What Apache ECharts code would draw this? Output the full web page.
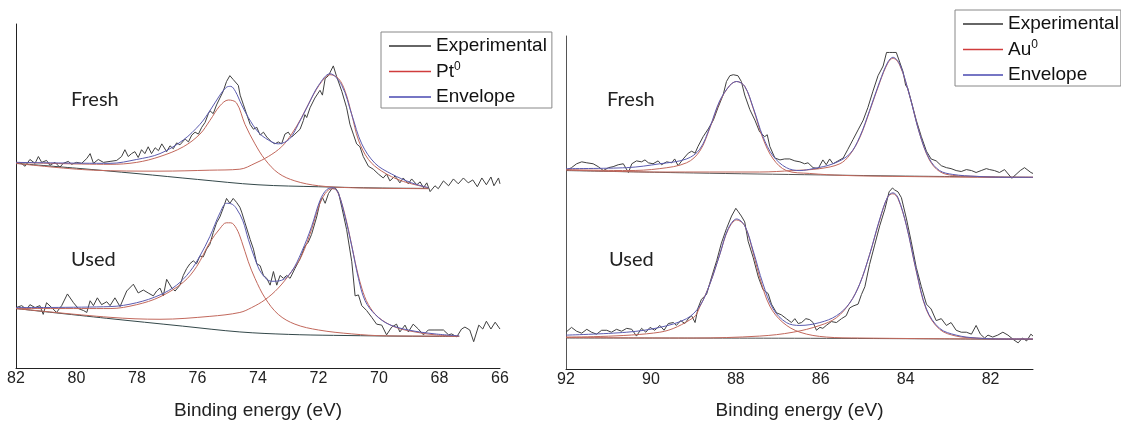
<!DOCTYPE html>
<html lang="en">
<head>
<meta charset="UTF-8">
<title>XPS Pt 4f / Au 4f</title>
<script src="https://cdn.jsdelivr.net/npm/echarts@6/dist/echarts.min.js"></script>
<style>
  html, body { margin: 0; padding: 0; background: #fff; }
  #main { width: 1121px; height: 425px; }
</style>
</head>
<body>
<div id="main"></div>
<script>
// binding energy (eV), intensity (a.u., spectra stacked with an offset)
// ---- Pt 4f, fresh ----
var ptFreshExp = [[82,209],[81.87,211],[81.7,207],[81.54,214],[81.37,210],[81.26,217],[81.15,211],[80.99,213],[80.88,208],[80.71,211],[80.55,206],[80.44,210],[80.27,212],[80.16,209],[80,211],[79.83,210],[79.66,215],[79.55,220],[79.44,210],[79.28,214],[79.11,211],[78.89,212],[78.67,213],[78.51,217],[78.4,224],[78.29,217],[78.18,220],[78.07,222],[77.96,216],[77.85,224],[77.74,220],[77.63,227],[77.52,220],[77.4,226],[77.29,223],[77.18,230],[77.02,222],[76.91,228],[76.8,225],[76.69,231],[76.58,229],[76.41,235],[76.3,232],[76.19,239],[76.08,242],[75.97,240],[75.86,247],[75.75,252],[75.64,261],[75.59,264],[75.48,261],[75.37,270],[75.26,277],[75.15,284],[75.04,294],[74.93,300],[74.82,296],[74.65,290],[74.59,280],[74.48,270],[74.37,260],[74.26,250],[74.15,245],[74.04,247],[73.93,239],[73.82,242],[73.71,237],[73.55,232],[73.44,230],[73.33,232],[73.22,230],[73.11,240],[73,242],[72.89,237],[72.78,240],[72.61,245],[72.5,254],[72.45,260],[72.39,257],[72.28,267],[72.12,277],[71.95,285],[71.87,280],[71.78,297],[71.67,300],[71.51,310],[71.4,299],[71.23,284],[71.07,267],[70.96,250],[70.85,240],[70.74,230],[70.63,227],[70.52,217],[70.35,207],[70.19,204],[70.02,199],[69.86,195],[69.75,199],[69.64,192],[69.47,197],[69.31,190],[69.2,195],[69.03,189],[68.92,194],[68.75,188],[68.64,191],[68.53,185],[68.42,190],[68.31,181],[68.15,187],[68.04,184],[67.87,192],[67.7,187],[67.54,194],[67.38,189],[67.21,195],[67.05,190],[66.9,193],[66.75,186],[66.6,195],[66.45,188],[66.3,196],[66.2,187],[66.05,195],[66,189]];
var ptFreshEnv = [[82,211],[78.89,210],[78.01,214],[77.24,220],[76.47,234],[75.92,250],[75.59,264],[75.26,280],[75.05,288],[74.9,289],[74.75,284],[74.54,270],[74.32,257],[73.99,242],[73.66,234],[73.33,230],[72.96,235],[72.67,250],[72.34,270],[72,290],[71.62,302],[71.23,290],[70.9,260],[70.57,230],[70.13,210],[69.58,199],[68.92,190],[68.37,185]];
var ptFreshPt1 = [[82,211],[78.89,209],[78.01,211],[77.24,217],[76.47,227],[75.92,240],[75.59,254],[75.26,269],[74.98,275],[74.71,272],[74.43,250],[74.1,230],[73.77,214],[73.33,200],[72.78,192],[72,187],[70.9,185],[68.37,184]];
var ptFreshPt2 = [[82,210],[79.44,203],[77.24,202],[75.59,203],[74.6,204],[74.1,210],[73.66,217],[73.22,227],[72.89,240],[72.56,257],[72.23,277],[71.89,294],[71.62,301],[71.34,297],[71.12,284],[70.9,260],[70.68,234],[70.35,214],[69.91,202],[69.25,192],[68.37,185]];
var ptFreshBg = [[82,210],[80,205],[78,199.5],[76,193.5],[74,188],[72,186],[70,184.7],[68.37,184.3]];

// ---- Pt 4f, used ----
var ptUsedExp = [[82,62],[81.81,64],[81.65,60],[81.54,65],[81.37,62],[81.21,64],[81.1,55],[80.99,67],[80.82,62],[80.66,57],[80.49,64],[80.3,76],[80.1,67],[79.94,61],[79.77,59],[79.66,57],[79.55,69],[79.44,64],[79.31,72],[79.17,65],[79,68],[78.89,64],[78.73,72],[78.56,63],[78.34,79],[78.12,86],[77.96,77],[77.79,80],[77.63,77],[77.46,74],[77.35,79],[77.24,82],[77.13,74],[77.02,91],[76.85,82],[76.74,79],[76.58,85],[76.47,95],[76.36,102],[76.25,107],[76.14,110],[76.03,107],[75.92,115],[75.81,114],[75.7,122],[75.59,127],[75.48,139],[75.37,149],[75.26,155],[75.15,164],[75.04,174],[74.93,169],[74.82,174],[74.71,170],[74.6,165],[74.54,160],[74.43,149],[74.26,132],[74.15,122],[74.04,107],[73.93,105],[73.82,95],[73.71,92],[73.6,85],[73.49,99],[73.38,85],[73.27,95],[73.16,92],[73.05,95],[72.94,92],[72.78,102],[72.61,112],[72.45,125],[72.34,129],[72.23,137],[72.06,155],[71.95,170],[71.87,175],[71.78,169],[71.67,179],[71.56,184],[71.45,185],[71.34,180],[71.23,165],[71.07,142],[70.9,109],[70.79,74],[70.68,75],[70.57,64],[70.41,59],[70.24,52],[70.08,45],[69.91,44],[69.75,34],[69.58,42],[69.42,45],[69.31,37],[69.14,44],[69.03,37],[68.87,45],[68.7,40],[68.53,34],[68.37,39],[68.15,39],[67.87,39],[67.7,34],[67.6,35],[67.43,32],[67.27,40],[67.16,42],[67,39],[66.87,27],[66.7,44],[66.57,40],[66.45,48],[66.3,40],[66.16,47],[66,40]];
var ptUsedEnv = [[82,62],[78.89,63],[78.01,67],[77.24,75],[76.69,85],[76.25,99],[75.92,115],[75.59,135],[75.26,159],[75.04,169],[74.85,168],[74.7,163],[74.5,151],[74.32,132],[74.1,112],[73.88,97],[73.55,89],[73.22,90],[72.89,99],[72.56,119],[72.23,145],[71.95,172],[71.73,183],[71.51,185],[71.34,179],[71.12,155],[70.9,125],[70.68,92],[70.46,69],[70.13,55],[69.69,45],[69.03,39],[68.15,35],[67.35,33]];
var ptUsedPt1 = [[82,61],[78.89,61],[78.01,65],[77.24,73],[76.47,88],[76.03,104],[75.59,129],[75.26,143],[75.05,149],[74.9,149],[74.71,143],[74.54,130],[74.32,109],[74.1,92],[73.77,72],[73.33,55],[72.78,45],[72,39],[70.9,35],[69.8,33],[68.15,32.7],[67.35,32.5]];
var ptUsedPt2 = [[82,61],[78.89,52],[77.24,50],[75.59,53],[74.6,57],[74.21,62],[73.77,70],[73.33,82],[72.89,99],[72.56,115],[72.23,142],[72,165],[71.78,179],[71.56,184],[71.4,182],[71.23,169],[71.01,142],[70.79,109],[70.57,82],[70.35,65],[70.02,52],[69.47,42],[68.81,37],[68.15,34],[67.35,32.7]];
var ptUsedBg = [[82,61],[79,51],[76.5,43],[74.6,37],[73,34.5],[71.5,33.5],[68,32.5],[67.35,32.5]];

// ---- Au 4f, fresh ----
var auFreshExp = [[92,205],[91.87,208],[91.75,212],[91.63,214],[91.51,213],[91.36,212],[91.24,209],[91.12,205],[91,208],[90.89,209],[90.77,211],[90.65,212],[90.53,203],[90.45,212],[90.34,215],[90.22,214],[90.14,216],[90.06,213],[89.95,212],[89.83,215],[89.75,211],[89.63,214],[89.51,213],[89.44,217],[89.36,210],[89.24,217],[89.12,223],[89.04,225],[88.96,223],[88.89,230],[88.77,240],[88.65,248],[88.53,257],[88.42,270],[88.3,283],[88.22,297],[88.14,303],[88.06,304],[87.95,303],[87.87,297],[87.79,283],[87.67,268],[87.55,257],[87.44,245],[87.32,240],[87.26,242],[87.2,230],[87.08,218],[86.96,216],[86.85,217],[86.73,217],[86.61,215],[86.49,214],[86.38,212],[86.3,213],[86.18,208],[86.06,207],[85.95,216],[85.87,211],[85.79,217],[85.71,212],[85.59,215],[85.47,218],[85.36,227],[85.24,237],[85.12,247],[85,257],[84.89,270],[84.77,287],[84.65,303],[84.53,313],[84.45,327],[84.38,327],[84.3,327],[84.22,327],[84.14,317],[84.06,307],[84,293],[83.95,290],[83.87,277],[83.75,257],[83.63,240],[83.51,225],[83.4,217],[83.28,215],[83.16,210],[83.04,208],[82.93,207],[82.81,205],[82.69,204],[82.57,206],[82.45,205],[82.34,203],[82.22,205],[82.1,207],[82.02,206],[81.91,205],[81.79,203],[81.67,206],[81.5,197],[81.4,201],[81.3,205],[81.2,208],[81.05,203],[81,202]];
var auFreshEnv = [[92,207],[90.57,208],[89.79,212],[89.16,217],[88.85,227],[88.61,250],[88.38,277],[88.14,293],[87.98,297],[87.79,292],[87.59,270],[87.36,240],[87.12,220],[86.81,208],[86.49,205],[86.18,207],[85.71,212],[85.32,222],[85.08,240],[84.85,267],[84.61,297],[84.42,317],[84.3,322],[84.14,315],[83.91,283],[83.67,243],[83.44,217],[83.2,205],[82.89,201],[82.34,199],[81.63,198],[81,198]];
var auFreshAu1 = [[92,206],[90.57,205],[89.79,207],[89.16,213],[88.85,225],[88.61,249],[88.38,276],[88.14,293],[87.98,297],[87.79,292],[87.59,269],[87.36,238],[87.12,217],[86.81,205],[86.26,202],[85.47,200],[84.3,199],[81.63,198],[81,198]];
var auFreshAu2 = [[92,205.5],[89.79,203.5],[87.44,203.5],[86.65,205],[86.02,207],[85.55,212],[85.32,221],[85.08,239],[84.85,266],[84.61,296],[84.42,316],[84.3,321],[84.14,314],[83.91,283],[83.67,243],[83.44,216],[83.2,204],[82.89,200],[82.34,199],[81.63,198],[81,198]];
var auFreshBg = [[92,205],[89,202.5],[86,200.5],[84,199.3],[81,198]];

// ---- Au 4f, used ----
var auUsedExp = [[92,38],[91.87,43],[91.75,39],[91.63,37],[91.51,41],[91.4,38],[91.28,36],[91.16,40],[91.04,40],[90.93,38],[90.81,41],[90.69,39],[90.57,42],[90.45,41],[90.34,34],[90.22,42],[90.12,38],[90.02,43],[89.91,40],[89.79,45],[89.69,40],[89.59,47],[89.47,48],[89.4,45],[89.3,50],[89.2,47],[89.12,52],[89.04,55],[88.96,48],[88.89,63],[88.81,72],[88.69,77],[88.57,95],[88.45,112],[88.34,130],[88.22,145],[88.1,158],[88,166],[87.95,163],[87.87,158],[87.79,152],[87.71,132],[87.59,115],[87.47,95],[87.36,82],[87.24,78],[87.16,67],[87.04,58],[86.93,56],[86.81,52],[86.69,48],[86.61,52],[86.53,47],[86.45,48],[86.35,52],[86.26,51],[86.18,48],[86.1,40],[86.02,43],[85.95,42],[85.87,45],[85.75,49],[85.63,48],[85.51,52],[85.4,55],[85.32,63],[85.24,65],[85.12,67],[85.04,77],[84.96,85],[84.85,108],[84.73,128],[84.61,148],[84.49,165],[84.39,183],[84.31,187],[84.26,185],[84.18,183],[84.1,177],[83.98,155],[83.87,132],[83.75,105],[83.63,85],[83.51,67],[83.4,62],[83.28,50],[83.16,52],[83.04,45],[82.93,48],[82.81,40],[82.69,38],[82.57,38],[82.45,36],[82.34,45],[82.24,36],[82.14,32],[82.06,35],[81.95,33],[81.83,35],[81.71,38],[81.59,35],[81.45,30],[81.35,27],[81.25,32],[81.15,29],[81.05,36],[81,34]];
var auUsedEnv = [[92,35],[90.57,38],[89.79,43],[89.16,52],[88.85,65],[88.61,88],[88.38,118],[88.18,145],[87.98,155],[87.79,148],[87.59,122],[87.36,88],[87.12,62],[86.81,48],[86.49,45],[86.02,48],[85.63,55],[85.32,68],[85.08,88],[84.85,118],[84.61,155],[84.42,178],[84.3,182],[84.18,177],[83.98,148],[83.75,102],[83.51,62],[83.2,42],[82.81,35],[82.34,32],[81.63,31],[81,31]];
var auUsedAu1 = [[92,33],[89.79,38],[89,53],[88.85,64],[88.61,88],[88.38,118],[88.18,144],[87.98,154],[87.79,148],[87.59,120],[87.44,95],[87.2,65],[86.89,48],[86.49,38],[85.87,33],[85.08,32],[81.63,31],[81,31]];
var auUsedAu2 = [[92,32.5],[89,32],[87.44,34],[86.65,38],[86.02,45],[85.63,53],[85.32,68],[85.08,88],[84.85,118],[84.61,154],[84.42,178],[84.3,181],[84.18,176],[83.98,148],[83.75,101],[83.51,61],[83.2,41],[82.81,34],[82.34,32],[81.63,31],[81,31]];
var auUsedBg = [[92,32],[87,31.8],[84,31.3],[81,30.5]];

var ptRange = [66, 82];   // left energy axis range
var auRange = [81, 92];   // right energy axis range

var cExp = '#404040', cComp = '#c2685c', cEnv = '#5c5cb0', cBg = '#34484a';
var legendColors = { 'Experimental': '#333333', 'Pt0': '#d03c3c', 'Au0': '#d03c3c', 'Envelope': '#4848b0' };
var FONT = '"Liberation Sans", Arial, sans-serif';

function line(name, data, color, g, z, smooth) {
    return {
        name: name, type: 'line', data: data,
        xAxisIndex: g, yAxisIndex: g,
        symbol: 'none', smooth: smooth ? 0.35 : false,
        lineStyle: { color: color, width: 1 },
        itemStyle: { color: color },
        z: z, silent: true, animation: false
    };
}

var myChart = echarts.init(document.getElementById('main'));

var xAxisBase = {
    type: 'value', inverse: true,
    name: 'Binding energy (eV)', nameLocation: 'middle',
    nameTextStyle: { fontSize: 19, fontFamily: FONT, color: '#222' },
    axisLine: { lineStyle: { color: '#222', width: 1 } },
    axisTick: { show: false },
    splitLine: { show: false },
    axisLabel: { fontSize: 16, fontFamily: FONT, color: '#222', margin: 3, showMinLabel: true, showMaxLabel: true }
};

function legendFor(items, sup, left, top, iw, padR) {
    return {
        data: items.map(function (n) { return { name: n, itemStyle: { color: legendColors[n] } }; }),
        orient: 'vertical', left: left, top: top,
        icon: 'rect', itemWidth: iw, itemHeight: 1.3, itemGap: 4.5,
        padding: [4, padR, 1, 8],
        borderColor: '#888', borderWidth: 1, backgroundColor: '#fff',
        selectedMode: false,
        formatter: function (n) { return n === sup ? sup.slice(0, 2) + '{s|0}' : n; },
        textStyle: { fontSize: 19, lineHeight: 20, fontFamily: FONT, color: '#111',
            rich: { s: { fontSize: 12, lineHeight: 20, fontFamily: FONT, color: '#111', padding: [0, 0, 10, 0] } } }
    };
}

var option = {
    backgroundColor: '#fff',
    animation: false,
    grid: [
        { left: 16, top: 24, width: 484, height: 353 },
        { left: 566, top: 36, width: 467, height: 344 }
    ],
    xAxis: [
        Object.assign({}, xAxisBase, { gridIndex: 0, min: ptRange[0], max: ptRange[1], interval: 2, nameGap: 33 }),
        Object.assign({}, xAxisBase, {
            gridIndex: 1, min: auRange[0], max: auRange[1], interval: 1, nameGap: 32,
            axisLabel: Object.assign({}, xAxisBase.axisLabel, {
                formatter: function (v) { return v % 2 === 0 ? String(v) : ''; }
            })
        })
    ],
    yAxis: [
        { type: 'value', gridIndex: 0, min: 0, max: 353, axisLabel: { show: false }, axisTick: { show: false },
          splitLine: { show: false }, axisLine: { show: true, lineStyle: { color: '#222' } } },
        { type: 'value', gridIndex: 1, min: 0, max: 344, axisLabel: { show: false }, axisTick: { show: false },
          splitLine: { show: false }, axisLine: { show: true, lineStyle: { color: '#555' } } }
    ],
    legend: [
        legendFor(['Experimental', 'Pt0', 'Envelope'], 'Pt0', 381, 32, 42, 5),
        legendFor(['Experimental', 'Au0', 'Envelope'], 'Au0', 955, 10, 40, 2)
    ],
    graphic: [
        { type: 'text', left: 71, top: 90, style: { text: 'Fresh', font: '20px Lato, "Open Sans", sans-serif', fill: '#222' } },
        { type: 'text', left: 71, top: 250, style: { text: 'Used', font: '20px Lato, "Open Sans", sans-serif', fill: '#222' } },
        { type: 'text', left: 607, top: 90, style: { text: 'Fresh', font: '20px Lato, "Open Sans", sans-serif', fill: '#222' } },
        { type: 'text', left: 609, top: 250, style: { text: 'Used', font: '20px Lato, "Open Sans", sans-serif', fill: '#222' } }
    ],
    series: [
        // Pt panel
        line('Experimental', ptFreshExp, cExp, 0, 3, false),
        line('Pt0', ptFreshPt1, cComp, 0, 4, true),
        line('Envelope', ptFreshEnv, cEnv, 0, 5, true),
        line('bg', ptFreshBg, cBg, 0, 2, true),
        line('Pt0', ptFreshPt2, cComp, 0, 4, true),
        line('Experimental', ptUsedExp, cExp, 0, 3, false),
        line('Pt0', ptUsedPt1, cComp, 0, 4, true),
        line('Pt0', ptUsedPt2, cComp, 0, 4, true),
        line('Envelope', ptUsedEnv, cEnv, 0, 5, true),
        line('bg', ptUsedBg, cBg, 0, 2, true),
        // Au panel
        line('Experimental', auFreshExp, cExp, 1, 3, false),
        line('Au0', auFreshAu1, cComp, 1, 4, true),
        line('Au0', auFreshAu2, cComp, 1, 4, true),
        line('Envelope', auFreshEnv, cEnv, 1, 5, true),
        line('bg', auFreshBg, '#555', 1, 2, true),
        line('Experimental', auUsedExp, cExp, 1, 3, false),
        line('Au0', auUsedAu1, cComp, 1, 4, true),
        line('Au0', auUsedAu2, cComp, 1, 4, true),
        line('Envelope', auUsedEnv, cEnv, 1, 5, true),
        line('bg', auUsedBg, '#555', 1, 2, true)
    ]
};

myChart.setOption(option);
</script>
</body>
</html>
